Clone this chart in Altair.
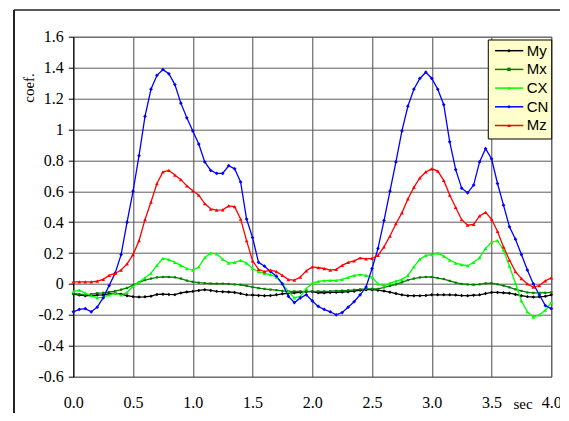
import altair as alt
import pandas as pd

# time axis (sec)
t = [round(i * 0.05, 2) for i in range(81)]

series_names = ["My", "Mx", "CX", "CN", "Mz"]
series_colors = ["#000000", "#008000", "#00FF00", "#0000FF", "#FF0000"]
series_shapes = ["diamond", "square", "triangle-up", "diamond", "triangle-up"]
series_marker_sizes = [12, 5, 14, 14, 14]

My = [-0.065, -0.072, -0.076, -0.075, -0.072, -0.07, -0.064, -0.06, -0.066, -0.076,
      -0.082, -0.085, -0.083, -0.079, -0.068, -0.066, -0.068, -0.069, -0.058, -0.052,
      -0.048, -0.042, -0.037, -0.042, -0.048, -0.05, -0.052, -0.055, -0.062, -0.07,
      -0.072, -0.074, -0.076, -0.075, -0.07, -0.064, -0.06, -0.057, -0.054, -0.05,
      -0.05, -0.057, -0.057, -0.055, -0.054, -0.052, -0.05, -0.047, -0.04, -0.037,
      -0.037, -0.04, -0.046, -0.053, -0.062, -0.07, -0.076, -0.076, -0.076, -0.074,
      -0.07, -0.07, -0.07, -0.07, -0.072, -0.075, -0.076, -0.073, -0.07, -0.062,
      -0.055, -0.055, -0.057, -0.06, -0.068, -0.076, -0.082, -0.085, -0.083, -0.08,
      -0.07]

Mx = [-0.063, -0.066, -0.07, -0.066, -0.06, -0.057, -0.052, -0.046, -0.037, -0.026,
      -0.008, 0.01, 0.025, 0.035, 0.043, 0.045, 0.045, 0.043, 0.035, 0.022,
      0.014, 0.008, 0.005, 0.003, 0.002, 0.002, 0.0, -0.003, -0.005, -0.012,
      -0.02, -0.027, -0.032, -0.036, -0.04, -0.045, -0.048, -0.048, -0.048, -0.048,
      -0.048, -0.048, -0.048, -0.047, -0.045, -0.043, -0.041, -0.038, -0.035, -0.032,
      -0.032, -0.032, -0.022, -0.012, -0.003, 0.01, 0.025, 0.035, 0.042, 0.045,
      0.045, 0.038, 0.032, 0.02, 0.008, 0.0, -0.003, -0.005, -0.002, 0.004,
      0.005, -0.002, -0.011, -0.022, -0.035, -0.045, -0.055, -0.058, -0.058, -0.057,
      -0.054]

CX = [-0.05, -0.04, -0.06, -0.075, -0.09, -0.085, -0.07, -0.06, -0.07, -0.055,
      -0.015, 0.012, 0.04, 0.07, 0.12, 0.165, 0.158, 0.14, 0.12, 0.1,
      0.09, 0.11, 0.17, 0.2, 0.195, 0.16, 0.135, 0.14, 0.152, 0.135,
      0.1, 0.08, 0.068, 0.06, 0.045, 0.0, -0.05, -0.09, -0.08, -0.03,
      0.005, 0.017, 0.022, 0.023, 0.023, 0.03, 0.042, 0.055, 0.06, 0.055,
      0.045, 0.0, -0.012, 0.005, 0.018, 0.03, 0.055, 0.11, 0.16, 0.185,
      0.19, 0.2, 0.18, 0.155, 0.135, 0.125, 0.118, 0.14, 0.17, 0.23,
      0.27, 0.28, 0.22, 0.115, 0.005, -0.11, -0.18, -0.214, -0.2, -0.17,
      -0.12]

CN = [-0.18, -0.165, -0.16, -0.18, -0.15, -0.09, -0.01, 0.07, 0.19, 0.4,
      0.6, 0.83, 1.085, 1.26, 1.35, 1.387, 1.36, 1.29, 1.17, 1.075,
      0.99, 0.905, 0.79, 0.735, 0.715, 0.715, 0.765, 0.745, 0.66, 0.42,
      0.3, 0.14, 0.115, 0.08, 0.05, 0.0, -0.08, -0.12, -0.09, -0.07,
      -0.11, -0.145, -0.165, -0.18, -0.2, -0.185, -0.15, -0.115, -0.07, -0.02,
      0.1, 0.23, 0.41, 0.6, 0.79, 0.99, 1.15, 1.26, 1.33, 1.37,
      1.33, 1.26, 1.16, 0.92, 0.74, 0.62, 0.59, 0.64, 0.79, 0.875,
      0.81, 0.65, 0.51, 0.37, 0.29, 0.19, 0.09, 0.0, -0.07, -0.14,
      -0.16]

Mz = [0.013, 0.013, 0.013, 0.013, 0.018, 0.03, 0.055, 0.068, 0.09, 0.13,
      0.19, 0.28, 0.416, 0.53, 0.65, 0.725, 0.735, 0.705, 0.675, 0.635,
      0.603, 0.575, 0.52, 0.485, 0.478, 0.48, 0.505, 0.5, 0.42, 0.28,
      0.15, 0.095, 0.08, 0.09, 0.08, 0.055, 0.028, 0.025, 0.045, 0.085,
      0.11, 0.105, 0.1, 0.09, 0.095, 0.12, 0.14, 0.15, 0.168, 0.163,
      0.165, 0.185, 0.24, 0.31, 0.39, 0.46, 0.55, 0.625, 0.686, 0.725,
      0.745, 0.73, 0.67, 0.575, 0.495, 0.416, 0.38, 0.385, 0.44, 0.463,
      0.42, 0.34, 0.24, 0.155, 0.08, 0.035, 0.0, -0.02, -0.01, 0.02,
      0.04]

x_ticks = [round(i * 0.5, 1) for i in range(9)]
y_ticks = [round(-0.6 + i * 0.2, 1) for i in range(12)]

values = {"My": My, "Mx": Mx, "CX": CX, "CN": CN, "Mz": Mz}
rows = []
for k, name in enumerate(series_names):
    for ti, v in zip(t, values[name]):
        rows.append({"t": ti, "v": v, "series": name, "k": k})
df = pd.DataFrame(rows)

W, H = 478, 340
SERIF = "Liberation Serif"
SANS = "Liberation Sans"

x_enc = alt.X("t:Q", scale=alt.Scale(domain=[0, 4], nice=False),
              axis=alt.Axis(values=x_ticks, format=".1f", title=None, ticks=False,
                            domain=False, labelPadding=18, labelFont=SERIF,
                            labelFontSize=16, labelColor="#000", grid=True,
                            gridColor="#4a4a4a", gridWidth=1, labelFlush=False,
                            labelOverlap=False))
y_enc = alt.Y("v:Q", scale=alt.Scale(domain=[-0.6, 1.6], nice=False, zero=False),
              axis=alt.Axis(values=y_ticks, title=None, ticks=True, tickSize=5,
                            tickColor="#000", domain=True, domainColor="#000",
                            labelPadding=5, labelFont=SERIF, labelFontSize=16,
                            labelColor="#000", grid=True, gridColor="#5a5a5a",
                            gridWidth=1, labelOverlap=False, labelFlush=False,
                            labelExpr="abs(datum.value) < 1e-9 ? '0' : abs(datum.value - 1) < 1e-9 ? '1' : (datum.value < 0 ? '-' : '') + format(abs(datum.value), '.1f')"))
color_enc = alt.Color("series:N", scale=alt.Scale(domain=series_names, range=series_colors),
                      legend=None)
shape_enc = alt.Shape("series:N", scale=alt.Scale(domain=series_names, range=series_shapes),
                      legend=None)
size_enc = alt.Size("series:N", scale=alt.Scale(type="ordinal", domain=series_names,
                                                range=series_marker_sizes),
                    legend=None)

lines = alt.Chart(df).mark_line(strokeWidth=1.3).encode(
    x=x_enc, y=y_enc, color=color_enc, detail="series:N", order="t:Q")
points = alt.Chart(df).mark_point(filled=True, opacity=1).encode(
    x=x_enc, y=y_enc, color=color_enc, shape=shape_enc, size=size_enc)

one = pd.DataFrame({"a": [0]})
left_off, top_off = 73.3, 36.7

frame_h = alt.Chart(one).mark_rule(color="#222", strokeWidth=1.5).encode(
    x=alt.value(14 - left_off), x2=alt.value(600), y=alt.value(10 - top_off))
frame_v = alt.Chart(one).mark_rule(color="#222", strokeWidth=2).encode(
    x=alt.value(14 - left_off), y=alt.value(10 - top_off), y2=alt.value(450))

sec_txt = alt.Chart(one).mark_text(text="sec", font=SERIF, fontSize=15, align="center",
                                   baseline="middle", color="#000").encode(
    x=alt.value(523 - left_off), y=alt.value(404 - top_off))
coef_txt = alt.Chart(one).mark_text(text="coef.", font=SERIF, fontSize=15, align="center",
                                    baseline="middle", angle=270, color="#000").encode(
    x=alt.value(29 - left_off), y=alt.value(88 - top_off))

leg_box = alt.Chart(one).mark_rect(fill="#FFFFCC", stroke="#000", strokeWidth=1).encode(
    x=alt.value(488.3 - left_off), x2=alt.value(551.7 - left_off),
    y=alt.value(40 - top_off), y2=alt.value(139 - top_off))

legend_layers = [leg_box]
for i, (name, col, shp) in enumerate(zip(series_names, series_colors, series_shapes)):
    yy = 50.7 + i * 18.7 - top_off
    legend_layers.append(alt.Chart(one).mark_rule(color=col, strokeWidth=1.5).encode(
        x=alt.value(495 - left_off), x2=alt.value(523.3 - left_off), y=alt.value(yy)))
    legend_layers.append(alt.Chart(one).mark_point(color=col, filled=True, size=12,
                                                   shape=shp, opacity=1).encode(
        x=alt.value(509 - left_off), y=alt.value(yy)))
    legend_layers.append(alt.Chart(one).mark_text(text=name, font=SANS, fontSize=15,
                                                  align="left", baseline="middle",
                                                  color="#000").encode(
        x=alt.value(526.7 - left_off), y=alt.value(yy)))

chart = alt.layer(lines, points, frame_h, frame_v, sec_txt, coef_txt, *legend_layers).properties(
    width=W, height=H,
    autosize=alt.AutoSizeParams(type="none"),
    padding={"left": 65.3, "top": 28.7, "right": 9, "bottom": 36},
    background="#FFFFFF",
).configure_view(stroke="#808080", strokeWidth=1)

chart.save("out.html", embed_options={"renderer": "svg", "actions": False})
